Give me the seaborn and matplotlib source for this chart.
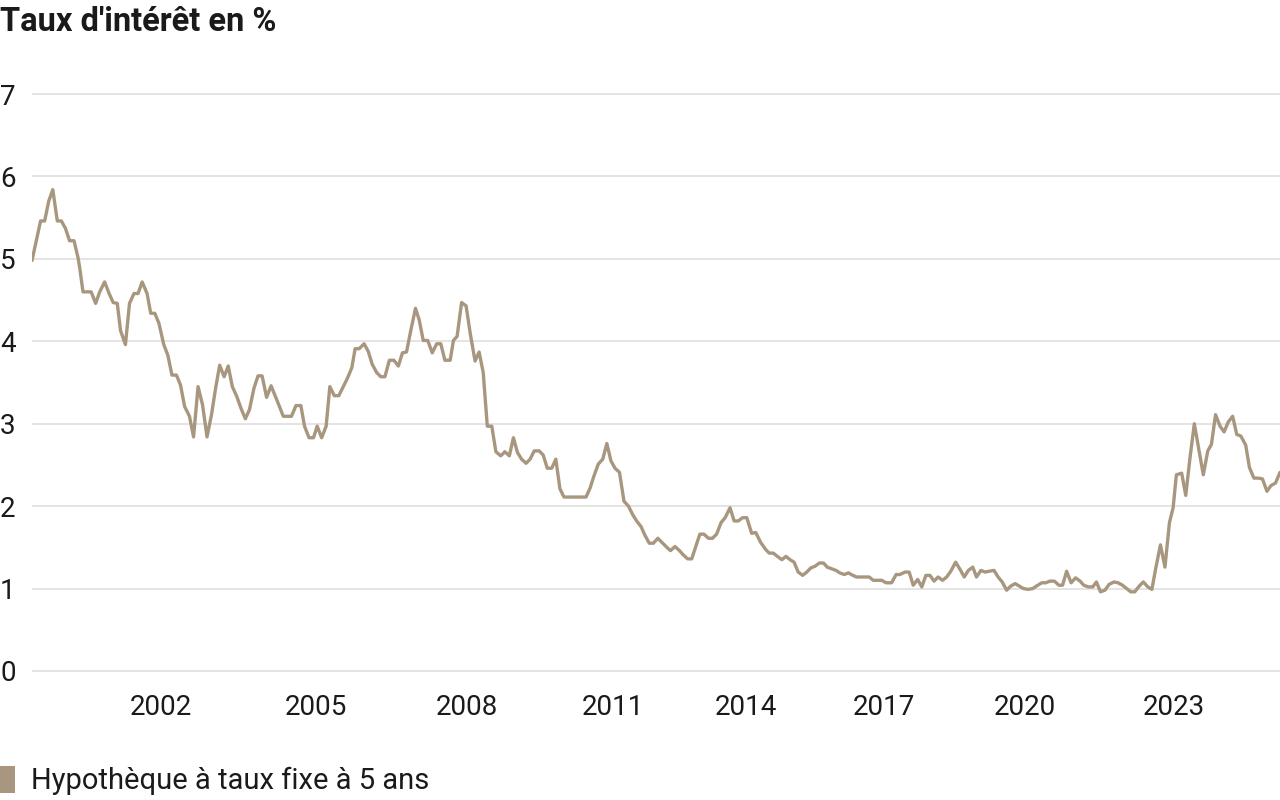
import matplotlib
matplotlib.use("Agg")
import matplotlib.pyplot as plt
from matplotlib.patches import Patch
import seaborn as sns
import pandas as pd

# ---- data ----
months = [
    0, 2.1, 3.1, 4.1, 5.1, 6.2, 7.2, 8.2, 9.2, 10.3, 11.3, 11.7, 12.5, 14.5, 15.6, 16.6, 17.8, 18.9, 19.9, 20.9,
    21.7, 22.9, 23.9, 25.0, 26.0, 27.0, 28.2, 29.1, 30.1, 31.1, 32.3, 33.3, 34.3, 35.4, 36.4, 37.4, 38.6, 39.6,
    40.7, 41.8, 42.9, 44.0, 45.0, 46.0, 47.1, 48.1, 49.1, 50.2, 51.2, 52.3, 53.3, 54.4, 55.4, 56.4, 57.5, 58.6,
    60.0, 61.6, 63.6, 64.7, 65.9, 66.8, 67.9, 69.0, 69.9, 71.0, 72.1, 73.0, 74.1, 75.2, 76.1, 77.3, 78.4, 79.2,
    80.2, 81.4, 82.4, 83.4, 84.5, 85.5, 86.5, 87.6, 88.7, 89.8, 90.8, 91.8, 92.8, 94.0, 94.9, 95.9, 97.0, 98.1,
    99.2, 100.2, 101.2, 102.5, 103.3, 104.2, 105.3, 106.4, 107.4, 108.6, 109.6, 110.6, 111.6, 112.7, 113.7,
    114.9, 115.9, 117.0, 118.0, 119.0, 120.0, 121.1, 122.1, 123.1, 124.3, 125.3, 126.3, 127.4, 128.4, 129.4,
    130.4, 135.8, 136.8, 137.7, 138.8, 139.9, 140.9, 141.9, 142.9, 144.0, 145.1, 146.2, 147.2, 148.2, 149.3,
    150.2, 151.3, 152.3, 153.4, 154.4, 155.6, 156.5, 157.6, 158.7, 159.6, 160.7, 161.7, 162.7, 163.7, 164.7,
    165.8, 166.8, 167.8, 168.9, 169.9, 171.1, 172.1, 173.1, 174.2, 175.2, 176.4, 177.4, 178.6, 179.9, 180.7,
    181.7, 182.7, 183.8, 184.8, 185.8, 186.8, 187.8, 188.9, 189.9, 190.9, 191.9, 193.0, 194.0, 194.9, 196.0,
    197.1, 198.0, 199.1, 200.1, 201.2, 202.1, 205.2, 206.2, 208.3, 209.3, 210.7, 211.8, 212.7, 214.0, 215.0,
    216.0, 217.1, 218.1, 219.1, 220.1, 221.1, 222.1, 223.2, 224.2, 225.2, 226.4, 227.5, 228.5, 229.5, 230.6,
    231.5, 232.6, 233.6, 234.6, 235.8, 236.8, 237.8, 238.9, 239.9, 241.0, 242.0, 243.0, 244.2, 245.3, 246.2,
    247.5, 248.5, 249.5, 250.6, 251.7, 252.6, 253.6, 254.7, 255.8, 256.9, 257.8, 258.9, 260.0, 260.9, 261.9,
    263.0, 264.0, 265.2, 266.2, 267.3, 268.3, 269.3, 270.3, 271.4, 272.4, 273.5, 274.5, 275.5, 276.6, 277.7,
    278.8, 279.7, 280.5, 281.8, 282.8, 283.8, 284.9, 286.0, 287.1, 288.2, 289.1, 290.1, 291.2, 292.2, 293.2,
    294.3, 295.3, 296.3, 297.5, 298.4, 299.5, 300.6, 301.6, 302.7, 303.7, 304.8, 305.9,
]
rates = [
    4.98, 5.46, 5.46, 5.70, 5.84, 5.46, 5.46, 5.37, 5.22, 5.22, 5.01, 4.89, 4.60, 4.60, 4.46, 4.60, 4.72, 4.58, 4.47, 4.46,
    4.13, 3.96, 4.46, 4.58, 4.58, 4.72, 4.58, 4.34, 4.34, 4.22, 3.96, 3.83, 3.59, 3.59, 3.47, 3.21, 3.09, 2.84,
    3.45, 3.23, 2.84, 3.11, 3.43, 3.71, 3.57, 3.70, 3.45, 3.33, 3.19, 3.06, 3.17, 3.43, 3.58, 3.58, 3.32, 3.46,
    3.29, 3.09, 3.09, 3.22, 3.22, 2.97, 2.83, 2.83, 2.97, 2.83, 2.97, 3.45, 3.34, 3.34, 3.43, 3.55, 3.68, 3.91,
    3.91, 3.97, 3.88, 3.72, 3.62, 3.57, 3.57, 3.77, 3.77, 3.70, 3.86, 3.87, 4.12, 4.40, 4.26, 4.01, 4.01, 3.86,
    3.97, 3.97, 3.77, 3.77, 4.01, 4.06, 4.47, 4.43, 4.10, 3.76, 3.87, 3.62, 2.97, 2.97, 2.66,
    2.61, 2.66, 2.61, 2.83, 2.65, 2.57, 2.52, 2.57, 2.67, 2.67, 2.62, 2.46, 2.46, 2.57, 2.21,
    2.11, 2.11, 2.22, 2.36, 2.51, 2.57, 2.76, 2.55, 2.46, 2.41, 2.06, 2.00, 1.90, 1.82, 1.75,
    1.65, 1.55, 1.55, 1.61, 1.56, 1.50, 1.46, 1.51, 1.46, 1.41, 1.36, 1.36, 1.51, 1.66, 1.66,
    1.61, 1.61, 1.66, 1.80, 1.86, 1.98, 1.82, 1.82, 1.86, 1.86, 1.67, 1.68, 1.56, 1.47, 1.43,
    1.43, 1.39, 1.35, 1.39, 1.35, 1.32, 1.20, 1.16, 1.20, 1.25, 1.27, 1.31, 1.31, 1.26, 1.24,
    1.22, 1.19, 1.17, 1.19, 1.16, 1.14, 1.14, 1.10, 1.10, 1.07, 1.07, 1.17, 1.17, 1.20, 1.20,
    1.04, 1.11, 1.02, 1.16, 1.16, 1.09, 1.14, 1.10, 1.14, 1.21, 1.32, 1.23, 1.14, 1.22, 1.26,
    1.14, 1.22, 1.20, 1.21, 1.22, 1.14, 1.08, 0.98, 1.03, 1.06, 1.03, 1.00, 0.99, 1.00, 1.03,
    1.07, 1.07, 1.09, 1.09, 1.04, 1.04, 1.21, 1.07, 1.13, 1.09, 1.04, 1.02, 1.02, 1.08, 0.96,
    0.98, 1.05, 1.08, 1.07, 1.04, 1.00, 0.96, 0.96, 1.03, 1.08, 1.02, 0.99, 1.26, 1.53, 1.26,
    1.80, 1.98, 2.38, 2.40, 2.13, 2.57, 3.00, 2.69, 2.38, 2.67, 2.75, 3.11, 2.97, 2.90, 3.02,
    3.09, 2.87, 2.85, 2.74, 2.47, 2.34, 2.34, 2.33, 2.18, 2.25, 2.28, 2.41,
]
tick_positions = [31.7, 69.6, 106.6, 142.4, 175.0, 208.8, 243.4, 279.9]
tick_labels = ["2002", "2005", "2008", "2011", "2014", "2017", "2020", "2023"]
y_ticks = [0, 1, 2, 3, 4, 5, 6, 7]
series_name = "Hypothèque à taux fixe à 5 ans"
title = "Taux d'intérêt en %"

df = pd.DataFrame({"mois": months, "taux": rates})

# ---- style ----
sns.set_theme(style="white")
plt.rcParams["font.family"] = ["Roboto", "DejaVu Sans"]
LINE = "#A8967F"
TXT = "#1a1a1a"
GRID = "#E2E2E2"

fig = plt.figure(figsize=(12.8, 8), dpi=100)
ax = fig.add_axes([0.025, 0.151, 0.975, 0.74175])

sns.lineplot(data=df, x="mois", y="taux", ax=ax, color=LINE, linewidth=2.4,
             legend=False, sort=False)

ax.set_xlim(months[0], months[-1])
ax.set_ylim(-0.1, 7.1)
ax.set_yticks(y_ticks)
ax.set_yticklabels([str(v) for v in y_ticks])
ax.set_xticks(tick_positions)
ax.set_xticklabels(tick_labels)
ax.set_xlabel("")
ax.set_ylabel("")
for s in ax.spines.values():
    s.set_visible(False)
ax.grid(axis="y", color=GRID, linewidth=1.3)
ax.grid(axis="x", visible=False)
ax.set_axisbelow(True)
ax.tick_params(axis="y", length=0, pad=23, labelsize=20, labelcolor=TXT)
ax.tick_params(axis="x", length=0, pad=11, labelsize=20, labelcolor=TXT)
for lab in ax.get_yticklabels():
    lab.set_horizontalalignment("left")

fig.text(0.0, 1 - 22 / 800, title, fontsize=23.5, fontweight="bold", color=TXT,
         ha="left", va="center")

fig.legend(handles=[Patch(facecolor=LINE, edgecolor="none", label=series_name)],
           loc="lower left", bbox_to_anchor=(0.0, 0.006), borderaxespad=0.0,
           borderpad=0.0, frameon=False, fontsize=21, labelcolor=TXT,
           handlelength=0.52, handleheight=1.05, handletextpad=0.55)

fig.savefig("out.png", dpi=100)
